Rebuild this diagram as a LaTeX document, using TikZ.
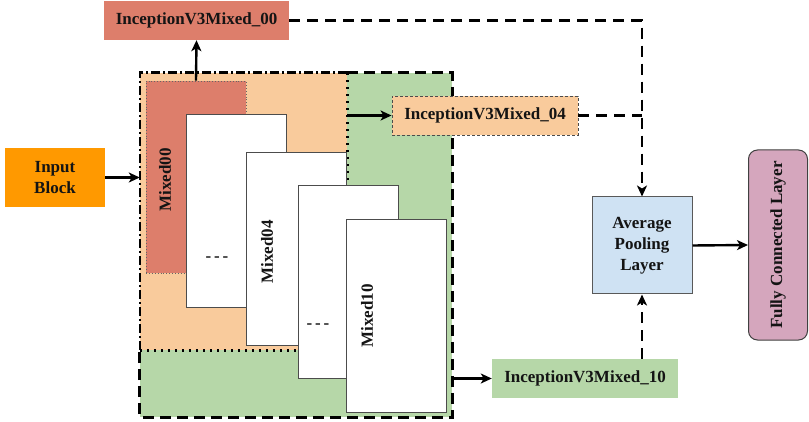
\documentclass[tikz,border=0pt]{standalone}
\usepackage{fontspec}
\setmainfont{Liberation Serif}
\usetikzlibrary{arrows.meta}
\definecolor{cRed}{HTML}{DD7E6B}
\definecolor{cOrg}{HTML}{F9CB9C}
\definecolor{cGrn}{HTML}{B6D7A8}
\definecolor{cBlu}{HTML}{CFE2F3}
\definecolor{cPnk}{HTML}{D5A6BD}
\definecolor{cInp}{HTML}{FF9900}
\begin{document}
\begin{tikzpicture}[x=1pt,y=-1pt,
  txt/.style={font=\fontsize{17}{21}\selectfont\bfseries, text=black!92},
  blk/.style={txt, inner sep=0pt, minimum width=#1, align=center},
  region/.style={draw=none, inner sep=0pt},
  whitebox/.style={region, fill=white, draw=black!70, line width=1pt, minimum width=100pt, minimum height=192pt},
  arr/.style={line width=2.4pt, -{Stealth[length=11pt,width=10pt,inset=3pt]}},
  darr/.style={arr, dash pattern=on 11pt off 7pt},
  dln/.style={line width=2.4pt, dash pattern=on 11pt off 7pt}
]
\useasboundingbox (0,0) rectangle (809,422);

% regions
\node[region, fill=cGrn, minimum width=312pt, minimum height=344pt] (grn) at (296,245) {};
\node[region, fill=cOrg, minimum width=207pt, minimum height=277pt] (orng) at (243.5,211.5) {};
\node[region, fill=cRed, draw=black!60, dotted, line width=0.9pt, minimum width=100pt, minimum height=192pt] (red) at (196,177) {};

% region borders
\draw[line width=2.6pt, dash pattern=on 2pt off 5pt] (orng.south west) -- (orng.south east) -- (orng.north east);
\draw[line width=2.6pt, dash pattern=on 9pt off 3pt on 2pt off 3pt] (orng.south west) -- (orng.north west) -- (orng.north east);
\draw[line width=2.8pt, dash pattern=on 11pt off 6pt] (orng.north east) -- (grn.north east) -- (grn.south east) -- (grn.south west) -- (orng.south west);

% white stacked boxes
\node[whitebox] (b1) at (236,211) {};
\node[whitebox] (b2) at (296,249) {};
\node[whitebox] (b3) at (348.5,282) {};
\node[whitebox] (b4) at (396.5,316) {};

% labels in stack
\node[txt, rotate=90] (l00) at (165,180) {Mixed00};
\node[txt, rotate=90] (l04) at (267,252) {Mixed04};
\node[txt, rotate=90] (l10) at (367,316) {Mixed10};
\node[txt] (d1) at (217,259) {-\,-\,-};
\node[txt] (d2) at (318,326) {-\,-\,-};

% outside blocks
\node[blk=185pt, fill=cRed, minimum height=39pt] (m00) at (196.5,20.5) {InceptionV3Mixed\_00};
\node[blk=100pt, fill=cInp, minimum height=59pt] (inp) at (55,177.5) {Input\\Block};
\node[blk=186pt, fill=cOrg, minimum height=39pt, draw=black!70, line width=0.9pt, dash pattern=on 3pt off 2pt] (m04) at (485,115.5) {InceptionV3Mixed\_04};
\node[blk=186pt, fill=cGrn, minimum height=39pt] (m10) at (585,378.5) {InceptionV3Mixed\_10};
\node[blk=100pt, fill=cBlu, minimum height=97pt, draw=black!65, line width=1pt] (avg) at (642,245.5) {Average\\Pooling\\Layer};
\node[txt, fill=cPnk, draw=black!75, line width=1pt, rounded corners=9pt, inner sep=0pt, minimum width=190pt, minimum height=59pt, rotate=90] (fc) at (778,245) {Fully Connected Layer};

% connectors
\draw[arr] (inp.east) -- (inp.east -| orng.west);
\draw[arr] (red.north) -- (m00.south);
\draw[arr] (orng.east |- m04.west) -- (m04.west);
\draw[arr] (grn.east |- m10.west) -- (m10.west);
\draw[darr] (m00.east) -- (m00.east -| avg.north) -- (avg.north);
\draw[dln] (m04.east) -- (m04.east -| avg.north);
\draw[darr] (m10.north -| avg.south) -- (avg.south);
\draw[arr] (avg.east) -- (fc.north);
\end{tikzpicture}
\end{document}
